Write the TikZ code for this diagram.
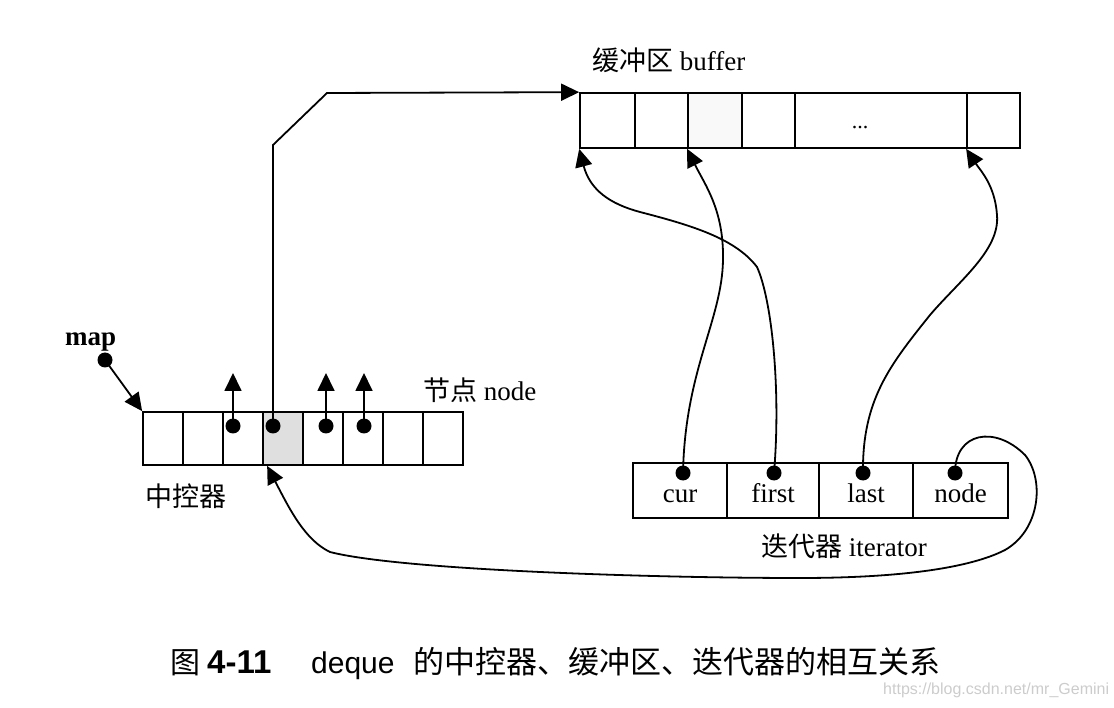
\documentclass[tikz,border=0pt]{standalone}
\usepackage{fontspec}
\setmainfont{Liberation Serif}
\newfontfamily\cjk{Noto Sans CJK SC}
\newfontfamily\sansf{Liberation Sans}
\usetikzlibrary{arrows.meta}
\begin{document}
\begin{tikzpicture}[x=1pt,y=-1pt,
  cellbox/.style={draw, line width=1.7pt, inner sep=0pt, minimum height=55pt},
  mcell/.style={cellbox, minimum width=40pt, minimum height=53pt},
  icell/.style={cellbox, text height=23pt, text depth=0pt, font=\fontsize{27}{30}\selectfont},
  dot/.style={circle, fill=black, inner sep=0pt, minimum size=15pt},
  lab/.style={inner sep=0pt, font=\fontsize{27}{30}\selectfont},
  arr/.style={line width=1.8pt, -{Triangle[length=18pt,width=17pt]}},
  wire/.style={line width=1.8pt}
]
\useasboundingbox (0,0) rectangle (1114,708);

% ---- buffer ----
\node[lab, anchor=base west] (buftitle) at (592,71) {{\cjk 缓冲区} buffer};
\node[cellbox, minimum width=55pt] (b1) at (607.5,120.5) {};
\node[cellbox, minimum width=53pt] (b2) at (661.5,120.5) {};
\node[cellbox, minimum width=54pt, fill=gray!5] (b3) at (715,120.5) {};
\node[cellbox, minimum width=53pt] (b4) at (768.5,120.5) {};
\node[cellbox, minimum width=172pt] (b5) at (881,120.5) {};
\node[cellbox, minimum width=53pt] (b6) at (993.5,120.5) {};
\node[inner sep=0pt, anchor=base, font=\fontsize{22}{24}\selectfont] (ell) at (860,129) {...};

% ---- map (central controller) ----
\foreach \i in {1,...,8} {
  \node[mcell] (m\i) at ({123+40*\i},438.5) {};
}
\node[mcell, fill=gray!25] at (m4) {};
\node[lab, anchor=base west, font=\fontsize{27}{30}\selectfont\bfseries] (maplab) at (65,346) {map};
\node[dot] (dmap) at (105,360) {};
\node[lab, anchor=base west] (nodelab) at (423,401) {{\cjk 节点} node};
\node[lab, anchor=base west] (ctrllab) at (145,506) {\cjk 中控器};

\node[dot] (dm3) at (233,426) {};
\node[dot] (dm4) at (273,426) {};
\node[dot] (dm5) at (326,426) {};
\node[dot] (dm6) at (364,426) {};
\coordinate (u3) at (233,373);
\coordinate (u5) at (326,373);
\coordinate (u6) at (364,373);
\coordinate (k1) at (273,145);
\coordinate (k2) at (327,93);

\draw[arr] (dmap.center) -- (m1.north west);
\draw[arr] (dm3.center) -- (u3);
\draw[arr] (dm5.center) -- (u5);
\draw[arr] (dm6.center) -- (u6);
\draw[arr] (dm4.center) -- (k1) -- (k2) -- (b1.north west);

% ---- iterator ----
\node[icell, minimum width=94pt] (i1) at (680,490.5) {cur};
\node[icell, minimum width=92pt] (i2) at (773,490.5) {first};
\node[icell, minimum width=94pt] (i3) at (866,490.5) {last};
\node[icell, minimum width=95pt] (i4) at (960.5,490.5) {node};
\node[lab, anchor=base] (itlab) at (844,556) {{\cjk 迭代器} iterator};

\node[dot] (di1) at (683,473) {};
\node[dot] (di2) at (774,473) {};
\node[dot] (di3) at (863,473) {};
\node[dot] (di4) at (955,473) {};

% cur -> current element
\draw[arr] (di1.center) .. controls (685,370) and (722,320) .. (723,260)
  .. controls (724,210) and (705,185) .. (b3.south west);
% first -> buffer start
\draw[arr] (di2.center) .. controls (781,390) and (772,300) .. (757,267)
  .. controls (735,238) and (690,225) .. (640,212)
  .. controls (610,204) and (590,190) .. (b1.south west);
% last -> buffer end
\draw[arr] (di3.center) .. controls (862,400) and (890,365) .. (930,315)
  .. controls (960,280) and (1000,250) .. (997,215)
  .. controls (995,185) and (980,170) .. (b6.south west);
% node -> map cell
\draw[arr] (di4.center) .. controls (955,432) and (995,425) .. (1025,455)
  .. controls (1045,480) and (1040,530) .. (1005,550)
  .. controls (970,568) and (900,578) .. (800,578)
  .. controls (650,578) and (400,570) .. (330,552)
  .. controls (305,540) and (290,510) .. ([xshift=5pt]m4.south west);

% ---- caption ----
\node[inner sep=0pt, anchor=base west, font=\fontsize{30}{32}\selectfont\cjk] (capA) at (170,673) {图};
\node[inner sep=0pt, anchor=base west, font=\fontsize{33}{35}\selectfont\sansf\bfseries] (capB) at (207,673) {4-11};
\node[inner sep=0pt, anchor=base west, font=\fontsize{30}{32}\selectfont\sansf] (capC) at (311,673) {deque};
\node[inner sep=0pt, anchor=base west, font=\fontsize{31}{33}\selectfont\cjk] (capD) at (413,673) {的中控器、缓冲区、迭代器的相互关系};

% ---- watermark ----
\node[inner sep=0pt, anchor=base west, text=gray!40, font=\fontsize{16}{18}\selectfont\sansf] (wm) at (883,694) {https://blog.csdn.net/mr\_Gemini};
\end{tikzpicture}
\end{document}
